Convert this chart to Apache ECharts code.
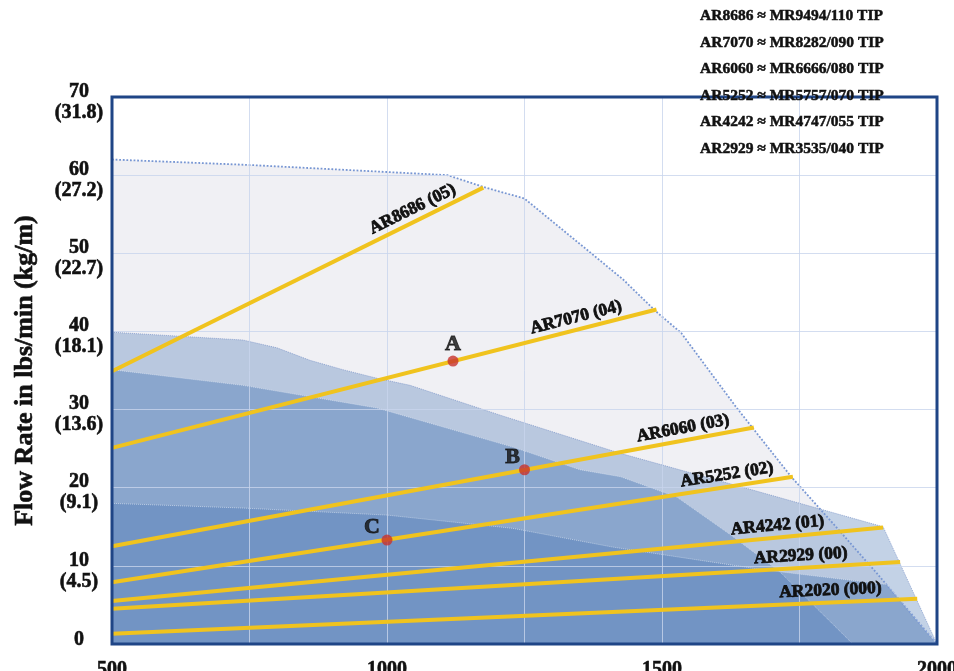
<!DOCTYPE html>
<html><head><meta charset="utf-8">
<script src="https://cdn.jsdelivr.net/npm/echarts@6/dist/echarts.min.js"></script>
<style>html,body{margin:0;padding:0;background:#fff}#c{width:954px;height:671px}</style>
</head><body><div id="c"></div>
<script>
// ---- data ----
const yTicks = [0, 10, 20, 30, 40, 50, 60, 70];
const yTicksKg = ['', '4.5', '9.1', '13.6', '18.1', '22.7', '27.2', '31.8'];
const xTickLabels = [500, 1000, 1500, 2000];

const envH50 = [[500,62],[750,61.3],[1000,60.4],[1110,60],[1175,58.5],[1250,57],[1380,49.5],[1430,46.6],[1490,42.5],[1535,39.8],[1635,30.3],[1735,21.4],[1810,15.5],[1890,9.1],[2000,0]];
const envE30 = [[500,39.9],[738,38.9],[800,37.9],[860,36.3],[920,35.1],[982,34.0],[1042,33.1],[1205,29.3],[1424,24.4],[1665,19.7],[1902,15.0],[2000,0]];
const envA25 = [[500,35.1],[738,33.1],[982,30.2],[1229,25.2],[1351,22.3],[1425,21.4],[1527,18.8],[1624,14.0],[1715,9.2],[1847,0]];
const envE20 = [[500,18.0],[738,17.4],[1000,16.5],[1229,14.8],[1411,12.4],[1533,11.1],[1684,9.5],[1909,7.6],[2000,0]];

const tipNames  = ['AR8686 (05)', 'AR7070 (04)', 'AR6060 (03)', 'AR5252 (02)', 'AR4242 (01)', 'AR2929 (00)', 'AR2020 (000)'];
const tipStart  = [[500,34.9],[500,25.1],[500,12.5],[500,7.9],[500,5.5],[500,4.5],[500,1.3]];
const tipEnd    = [[1175,58.4],[1490,42.8],[1667,27.7],[1738,21.4],[1902,14.9],[1933,10.5],[1964,5.8]];

const pointNames  = ['A', 'B', 'C'];
const pointValues = [[1120,36.2],[1250,22.3],[1000,13.3]];

const nozzleNames = ['H-50', 'A-50', 'E-30', 'A-25', 'E-20'];
const equivalences = [
  'AR8686 \u2248 MR9494/110 TIP',
  'AR7070 \u2248 MR8282/090 TIP',
  'AR6060 \u2248 MR6666/080 TIP',
  'AR5252 \u2248 MR5757/070 TIP',
  'AR4242 \u2248 MR4747/055 TIP',
  'AR2929 \u2248 MR3535/040 TIP'
];

// ---- styling / layout (not data) ----
const SERIF = 'Liberation Serif';
const INK = '#111';
const labelGapAlong = [26, 33, 23, 18, 58, 52, 35];
const pointLabelOffset = [[0, 4], [-12, 8], [-15, 8]];
const boxCenters = [[189, 209], [189, 246], [189, 359], [189, 460], [189, 546]];
const GRID = { left: 112, top: 97, right: 17, bottom: 27 };
const heavy = { textBorderColor: INK, textBorderWidth: 0.6 };
const axisFont = { fontFamily: SERIF, fontWeight: 'bold', fontSize: 20, lineHeight: 21, color: INK, textBorderColor: INK, textBorderWidth: 0.6 };

const chart = echarts.init(document.getElementById('c'));

const areaSeries = [
  { data: envH50, fill: '#f0f0f4', line: { type: 'dotted', width: 1.8, color: '#7796d3' } },
  { data: envE30, fill: 'rgba(88,130,186,0.36)', line: { type: 'dotted', width: 1, color: 'rgba(120,145,200,0.7)' } },
  { data: envA25, fill: 'rgba(88,130,186,0.48)', line: { type: 'dotted', width: 1, color: 'rgba(235,240,250,0.55)' } },
  { data: envE20, fill: 'rgba(88,130,186,0.48)', line: { type: 'dotted', width: 1, color: 'rgba(235,240,250,0.55)' } }
].map(a => ({
  type: 'line', data: a.data, symbol: 'none', silent: true, z: 1,
  lineStyle: a.line, areaStyle: { color: a.fill, opacity: 1 }
}));

const tipSeries = tipNames.map((name, i) => ({
  type: 'line', name, data: [tipStart[i], tipEnd[i]], symbol: 'none', z: 5, silent: true,
  lineStyle: { color: '#f0c31e', width: 4 },
  markLine: {
    silent: true, symbol: ['none', 'none'], animation: false,
    lineStyle: { color: 'rgba(0,0,0,0)', width: 1, type: 'solid' },
    emphasis: { disabled: true },
    label: {
      show: true, position: 'insideEndTop', formatter: name, opacity: 1,
      distance: [labelGapAlong[i], 3],
      fontFamily: SERIF, fontWeight: 'bold', fontSize: 17.5, color: INK,
      textBorderColor: INK, textBorderWidth: 0.8
    },
    data: [[{ coord: tipStart[i] }, { coord: tipEnd[i] }]]
  }
}));

const pointSeries = {
  type: 'scatter', z: 7, symbolSize: 11, silent: true,
  itemStyle: { color: '#c8322c' },
  data: pointValues.map((v, i) => ({
    value: v, name: pointNames[i],
    label: Object.assign({ show: true, position: 'top', formatter: pointNames[i], distance: 4, offset: pointLabelOffset[i],
      fontFamily: SERIF, fontWeight: 'bold', fontSize: 22, color: INK }, { textBorderColor: INK, textBorderWidth: 0.9 })
  }))
};

const graphics = [];
nozzleNames.forEach((n, i) => {
  graphics.push({
    type: 'group', x: boxCenters[i][0], y: boxCenters[i][1], z: 50,
    children: [
      { type: 'rect', shape: { x: -39, y: -14, width: 78, height: 28, r: 14 },
        style: { fill: '#fff', stroke: '#111', lineWidth: 1.5 } },
      { type: 'text', x: 0, y: 0, style: { text: n, fill: '#222', font: '16px "DejaVu Serif"', align: 'center', verticalAlign: 'middle' } }
    ]
  });
});
equivalences.forEach((t, i) => {
  graphics.push({ type: 'text', x: 700, y: 16 + i * 26.6, z: 60,
    style: { text: t, fill: INK, stroke: INK, lineWidth: 0.5, font: 'bold 15.5px "' + SERIF + '"', align: 'left', verticalAlign: 'middle' } });
});
graphics.push({ type: 'rect', z: 40, silent: true,
  shape: { x: GRID.left, y: GRID.top, width: 954 - GRID.left - GRID.right, height: 671 - GRID.top - GRID.bottom },
  style: { fill: 'none', stroke: '#1f4586', lineWidth: 3 } });

chart.setOption({
  animation: false,
  backgroundColor: '#fff',
  grid: { left: GRID.left, top: GRID.top, right: GRID.right, bottom: GRID.bottom, containLabel: false, outerBoundsMode: 'none' },
  xAxis: {
    type: 'value', min: 500, max: 2000, interval: 250, z: 3,
    axisLine: { show: false }, axisTick: { show: false },
    splitLine: { show: true, lineStyle: { color: 'rgba(200,212,236,0.8)', width: 1 } },
    axisLabel: Object.assign({
      margin: 16, fontFamily: SERIF, fontWeight: 'bold', fontSize: 20, color: INK,
      showMinLabel: true, showMaxLabel: true,
      formatter: v => xTickLabels.indexOf(v) >= 0 ? String(v) : ''
    }, heavy)
  },
  yAxis: {
    type: 'value', min: 0, max: 70, interval: 10, z: 3,
    name: 'Flow Rate in lbs/min (kg/m)', nameLocation: 'middle', nameGap: 74,
    nameTextStyle: Object.assign({ fontFamily: SERIF, fontWeight: 'bold', fontSize: 26, color: INK }, heavy),
    axisLine: { show: false }, axisTick: { show: false },
    splitLine: { show: true, lineStyle: { color: 'rgba(200,212,236,0.8)', width: 1 } },
    axisLabel: Object.assign({
      margin: 33, align: 'center', padding: [10, 0, 0, 0],
      rich: { z: Object.assign({ padding: [0, 0, 18, 0] }, axisFont) },
      formatter: v => { const i = yTicks.indexOf(v); return (i >= 0 && yTicksKg[i]) ? v + '\n(' + yTicksKg[i] + ')' : '{z|' + v + '}'; }
    }, axisFont)
  },
  graphic: graphics,
  series: [...areaSeries, ...tipSeries, pointSeries]
});
</script></body></html>
